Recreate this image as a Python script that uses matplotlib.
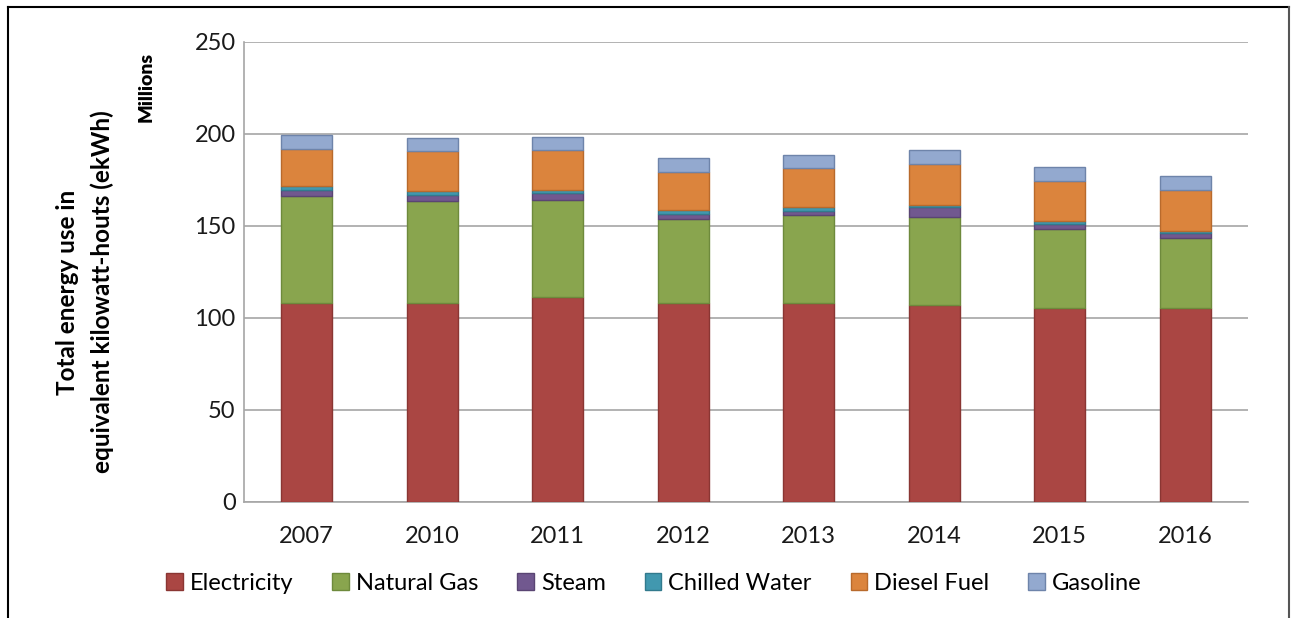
import matplotlib
matplotlib.use("Agg")
import matplotlib.pyplot as plt
import numpy as np
from matplotlib.lines import Line2D

years = ["2007", "2010", "2011", "2012", "2013", "2014", "2015", "2016"]
electricity = [108.0, 108.3, 111.3, 108.1, 108.1, 106.8, 105.4, 105.4]
natural_gas = [58.5, 55.1, 53.0, 45.7, 47.7, 47.9, 43.0, 38.1]
steam = [3.2, 3.6, 3.6, 2.8, 2.6, 5.5, 2.7, 2.8]
chilled_water = [2.2, 2.2, 1.8, 2.1, 1.8, 1.4, 1.5, 1.2]
diesel_fuel = [19.7, 21.3, 21.6, 20.8, 21.3, 22.1, 22.0, 22.2]
gasoline = [7.6, 7.3, 7.2, 7.2, 7.2, 7.7, 7.2, 7.3]

series = [
    ("Electricity", electricity, "#AA4643", "#8A3633"),
    ("Natural Gas", natural_gas, "#89A54E", "#6E8A3C"),
    ("Steam", steam, "#71588F", "#5A4573"),
    ("Chilled Water", chilled_water, "#4198AF", "#327A8D"),
    ("Diesel Fuel", diesel_fuel, "#DB843D", "#B86A2C"),
    ("Gasoline", gasoline, "#93A9CF", "#6E84AA"),
]

plt.rcParams['font.family'] = ['Lato', 'DejaVu Sans']

fig = plt.figure(figsize=(12.91, 6.18), dpi=100)
ax = fig.add_axes([244/1291, 1 - 502/618, (1248 - 244)/1291, (502 - 42)/618])

x = np.arange(len(years))
bottom = np.zeros(len(years))
for name, vals, col, ec in series:
    vals = np.array(vals)
    ax.bar(x, vals, width=0.41, bottom=bottom, color=col, edgecolor=ec,
           linewidth=1.0, zorder=3, label=name)
    bottom += vals

ax.set_xlim(-0.5, len(years) - 0.5)
ax.set_ylim(0, 250)
ax.set_yticks(np.arange(0, 251, 50))
ax.set_xticks(x)
ax.set_xticklabels(years)
ax.yaxis.grid(True, color="#A6A6A6", linewidth=1.2, zorder=0)
ax.tick_params(axis='both', length=0, labelsize=17, colors="#1a1a1a")
ax.tick_params(axis='y', pad=6)
ax.tick_params(axis='x', pad=17)
for s in ["top", "right"]:
    ax.spines[s].set_visible(False)
for s in ["left", "bottom"]:
    ax.spines[s].set_color("#A6A6A6")
    ax.spines[s].set_linewidth(1.2)

fig.text(85/1291, 1 - 292/618, "Total energy use in\nequivalent kilowatt-houts (ekWh)",
         rotation=90, ha="center", va="center", fontsize=17.5, fontweight="bold",
         linespacing=1.55)
fig.text(146/1291, 1 - 87/618, "Millions", rotation=90, ha="center", va="center",
         fontsize=14, fontweight="heavy")

leg = fig.legend(*ax.get_legend_handles_labels(), loc="center",
                 bbox_to_anchor=(654/1291, 1 - 583/618), ncol=6, frameon=False,
                 fontsize=17, handlelength=0.7, handleheight=0.7,
                 handletextpad=0.3, columnspacing=1.65)

# outer border lines (top, left, right)
fig.add_artist(Line2D([8/1291, 1289/1291], [1 - 7/618, 1 - 7/618], color="black",
                      linewidth=1.5, transform=fig.transFigure))
fig.add_artist(Line2D([8/1291, 8/1291], [0, 1 - 7/618], color="black",
                      linewidth=1.5, transform=fig.transFigure))
fig.add_artist(Line2D([1289/1291, 1289/1291], [0, 1 - 7/618], color="#555555",
                      linewidth=1.5, transform=fig.transFigure))

fig.savefig("out.png", dpi=100)
